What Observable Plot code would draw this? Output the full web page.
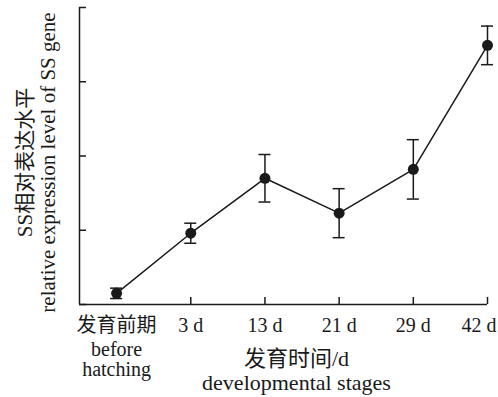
<!DOCTYPE html>
<html>
<head>
<meta charset="utf-8">
<script src="https://cdn.jsdelivr.net/npm/d3@7"></script>
<script src="https://cdn.jsdelivr.net/npm/@observablehq/plot@0.6"></script>
<style>
  html, body { margin: 0; padding: 0; background: #fff; }
</style>
</head>
<body>
<div id="chart"></div>
<script>
// ---- data ----
const categories = ["发育前期", "3 d", "13 d", "21 d", "29 d", "42 d"];
const categorySub = "before\nhatching";
const values = [0.15, 0.96, 1.70, 1.23, 1.82, 3.49];
const errors = [0.07, 0.135, 0.32, 0.33, 0.40, 0.26];
const yTicks = [0, 1, 2, 3, 4];
const xTitle = "发育时间/d\ndevelopmental stages";
const yTitle = "SS相对表达水平\nrelative expression level of SS gene";

const xDomain = [-0.5, categories.length - 1];
const data = categories.map((c, i) => ({i, c, v: values[i], lo: values[i] - errors[i], hi: values[i] + errors[i]}));
const xTickIdx = categories.map((_, i) => i).slice(1);
const ink = "#1a1a1a";
const font = "'Liberation Serif', 'Times New Roman', 'Noto Sans CJK SC', serif";

const chart = Plot.plot({
  width: 498,
  height: 397,
  marginLeft: 79,
  marginRight: 11,
  marginTop: 7,
  marginBottom: 93,
  style: {fontFamily: font, color: ink, background: "#fff"},
  x: {domain: xDomain},
  y: {domain: [yTicks[0], yTicks[yTicks.length - 1]]},
  marks: [
    // axis lines
    Plot.ruleY([yTicks[0]], {stroke: ink, strokeWidth: 1.5}),
    Plot.ruleX([xDomain[0]], {stroke: ink, strokeWidth: 1.5}),
    // inward ticks, no labels
    Plot.axisY(yTicks, {tickSize: -7, stroke: ink, strokeWidth: 1.5, fill: "none", label: null}),
    Plot.axisX(xTickIdx, {tickSize: -7, stroke: ink, strokeWidth: 1.5, fill: "none", label: null}),
    // tick labels
    Plot.text(categories.slice(0, -1), {x: (d, i) => i, frameAnchor: "bottom", lineAnchor: "top", dy: 13, fontSize: 20, fill: ink}),
    Plot.text(categories.slice(-1), {x: () => categories.length - 1, frameAnchor: "bottom", lineAnchor: "top", dy: 13, dx: 9, textAnchor: "end", fontSize: 20, fill: ink}),
    Plot.text([categorySub], {x: () => 0, frameAnchor: "bottom", lineAnchor: "top", dy: 37, lineHeight: 1.0, fontSize: 20, fill: ink}),
    // axis titles
    Plot.text([xTitle], {frameAnchor: "bottom", lineAnchor: "top", dy: 45, dx: 13, lineHeight: 1.08, fontSize: 22, fill: ink}),
    Plot.text([yTitle], {frameAnchor: "left", textAnchor: "middle", rotate: -90, lineAnchor: "middle", dx: -43.8, dy: 6.5, lineHeight: 1.1, fontSize: 21, fill: ink}),
    // data
    Plot.ruleX(data, {x: "i", y1: "lo", y2: "hi", stroke: ink, strokeWidth: 1.5}),
    Plot.ruleY(data, {x1: "i", x2: "i", y: "hi", insetLeft: -6, insetRight: -6, stroke: ink, strokeWidth: 1.5}),
    Plot.ruleY(data, {x1: "i", x2: "i", y: "lo", insetLeft: -6, insetRight: -6, stroke: ink, strokeWidth: 1.5}),
    Plot.line(data, {x: "i", y: "v", stroke: ink, strokeWidth: 1.5}),
    Plot.dot(data, {x: "i", y: "v", r: 5.5, fill: ink, stroke: "none"})
  ]
});
document.getElementById("chart").appendChild(chart);
</script>
</body>
</html>
